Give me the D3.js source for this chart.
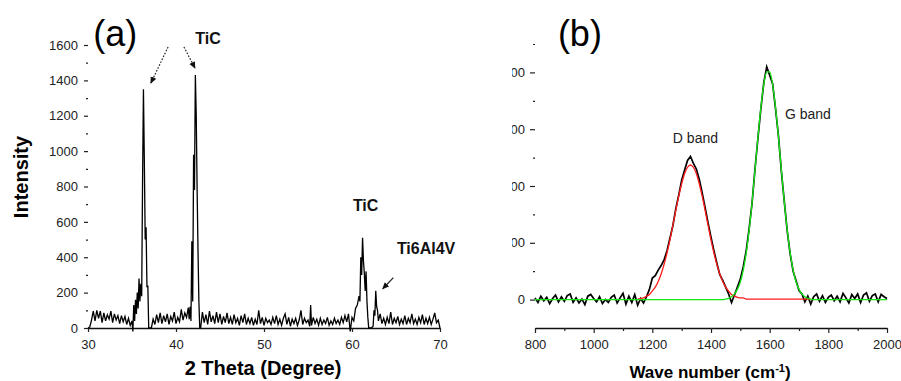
<!DOCTYPE html>
<html>
<head>
<meta charset="utf-8">
<script src="https://cdn.jsdelivr.net/npm/d3@7"></script>
<style>
  body { margin: 0; background: #fff; }
  svg { display: block; font-family: "Liberation Sans", Arial, sans-serif; }
</style>
</head>
<body>
<div id="chart"></div>
<script>
// ---- (a) XRD pattern: [2 theta, intensity]
const xrdPattern = [
  [30.0, 0], [30.2, 5], [30.4, 45], [30.6, 95], [30.8, 40], [31.0, 100], [31.2, 55], [31.4, 95], [31.6, 30], [31.8, 85],
  [32.0, 40], [32.2, 75], [32.4, 50], [32.6, 95], [32.8, 30], [33.0, 80], [33.2, 45], [33.4, 70], [33.6, 25], [33.8, 70],
  [34.0, 35], [34.2, 65], [34.4, 20], [34.6, 55], [34.8, 15], [35.0, 40], [35.1, -20], [35.2, 130], [35.3, 40], [35.4, 160],
  [35.5, 80], [35.6, 200], [35.7, 110], [35.8, 280], [35.9, 150], [36.0, 250], [36.1, 180], [36.2, 820], [36.3, 1350], [36.4, 950],
  [36.5, 500], [36.6, 570], [36.7, 230], [36.8, 240], [36.9, 0], [37.0, 0], [37.2, 0], [37.4, 50], [37.6, 20], [37.8, 75],
  [38.0, 30], [38.2, 85], [38.4, 25], [38.6, 70], [38.8, 35], [39.0, 80], [39.2, 20], [39.4, 65], [39.6, 40], [39.8, 90],
  [40.0, 25], [40.2, 60], [40.4, 35], [40.6, 105], [40.8, 45], [41.0, 85], [41.2, 60], [41.4, 115], [41.5, 50], [41.6, 120],
  [41.7, 40], [41.8, 490], [41.9, 150], [42.0, 980], [42.1, 780], [42.2, 1430], [42.3, 1200], [42.4, 780], [42.5, 440], [42.6, 150],
  [42.7, 0], [42.8, 0], [43.0, 90], [43.2, 30], [43.4, 75], [43.6, 20], [43.8, 95], [44.0, 35], [44.2, 70], [44.4, 25],
  [44.6, 90], [44.8, 30], [45.0, 80], [45.2, 20], [45.4, 65], [45.6, 30], [45.8, 85], [46.0, 25], [46.2, 60], [46.4, 20],
  [46.6, 75], [46.8, 30], [47.0, 55], [47.2, 15], [47.4, 70], [47.6, 30], [47.8, 80], [48.0, 20], [48.2, 55], [48.4, 25],
  [48.6, 60], [48.8, 15], [49.0, 50], [49.2, 20], [49.4, 100], [49.6, 25], [49.8, 60], [50.0, 15], [50.2, 55], [50.4, 30],
  [50.6, 45], [50.8, 20], [51.0, 60], [51.2, 25], [51.4, 70], [51.6, 20], [51.8, 50], [52.0, 15], [52.2, 55], [52.4, 80],
  [52.6, 20], [52.8, 60], [53.0, 10], [53.2, 50], [53.4, 25], [53.6, 55], [53.8, 15], [54.0, 45], [54.2, 100], [54.4, 20],
  [54.6, 55], [54.8, 30], [55.0, 45], [55.2, 10], [55.3, 130], [55.4, 15], [55.6, 60], [55.8, 25], [56.0, 50], [56.2, 15],
  [56.4, 55], [56.6, 20], [56.8, 45], [57.0, 25], [57.2, 60], [57.4, 15], [57.6, 40], [57.8, 20], [58.0, 55], [58.2, 25],
  [58.4, 45], [58.6, 20], [58.8, 60], [59.0, 30], [59.2, 70], [59.4, 35], [59.6, 80], [59.8, -20], [60.0, 60], [60.2, 40],
  [60.4, 110], [60.6, 130], [60.8, 180], [60.9, 150], [61.0, 400], [61.1, 300], [61.2, 510], [61.3, 380], [61.4, 310], [61.5, 210],
  [61.6, 320], [61.7, 150], [61.8, 60], [61.9, 0], [62.0, 0], [62.2, 0], [62.4, 10], [62.5, 100], [62.6, 70], [62.7, 210],
  [62.8, 120], [62.9, 100], [63.0, 40], [63.2, 80], [63.4, 25], [63.6, 55], [63.8, 20], [64.0, 60], [64.2, 25], [64.4, 90],
  [64.6, 20], [64.8, 55], [65.0, 30], [65.2, 65], [65.4, 20], [65.6, 50], [65.8, 25], [66.0, 70], [66.2, 20], [66.4, 55],
  [66.6, 30], [66.8, 80], [67.0, 25], [67.2, 50], [67.4, 20], [67.6, 60], [67.8, 30], [68.0, 75], [68.2, 20], [68.4, 55],
  [68.6, 25], [68.8, 60], [69.0, 20], [69.2, 50], [69.4, 85], [69.6, 30], [69.8, 45], [70.0, 0]
];
const xrdTicksX = [30, 40, 50, 60, 70];
const xrdTicksY = [0, 200, 400, 600, 800, 1000, 1200, 1400, 1600];
const xrdMinorY = [100, 300, 500, 700, 900, 1100, 1300, 1500];

// ---- (b) Raman spectrum, sampled every 10 cm-1 from 800 to 2000
const ramanWave = d3.range(800, 2001, 10);
const ramanCounts = [
  30, -50, 60, -20, 40, -70, 20, 80, -40, 50,
  -30, 70, 100, -50, 30, -60, 10, -90, 60, 90,
  20, -40, 50, -70, 0, -50, 40, 80, -60, 30,
  110, -80, 60, -50, 90, -100, 20, -60, 50, 180,
  380, 420, 520, 600, 700, 860, 1080, 1300, 1600, 1840,
  2100, 2280, 2450, 2520, 2400, 2300, 2120, 1880, 1620, 1350,
  1100, 860, 640, 440, 340, 220, 100, -50, 80, 220,
  360, 580, 860, 1250, 1700, 2300, 2840, 3360, 3820, 4100,
  3950, 3800, 3360, 2880, 2250, 1720, 1200, 800, 500, 330,
  160, 100, -40, 60, -80, 50, 100, -30, 70, -50,
  40, 80, -20, 60, -40, 110, 30, -60, 90, 20,
  100, -50, 80, 120, -30, 70, 100, -40, 90, 50,
  20
];
// fitted bands: [wave number, counts]
const dBandFit = [
  [1150, 10], [1160, 20], [1170, 30], [1180, 60], [1190, 90], [1200, 150], [1210, 220], [1220, 320], [1230, 450], [1240, 620],
  [1250, 820], [1260, 1050], [1270, 1310], [1280, 1570], [1290, 1820], [1300, 2040], [1310, 2220], [1320, 2330], [1330, 2370], [1340, 2330],
  [1350, 2220], [1360, 2040], [1370, 1820], [1380, 1570], [1390, 1310], [1400, 1050], [1410, 820], [1420, 620], [1430, 450], [1440, 320],
  [1450, 220], [1460, 150], [1470, 90], [1480, 60], [1490, 40], [1500, 30], [1510, 30], [1520, 10], [1740, 10]
];
const gBandFit = [
  [800, 0], [1440, 0], [1450, 10], [1460, 20], [1470, 50], [1480, 100], [1490, 180], [1500, 310], [1510, 520], [1520, 820],
  [1530, 1220], [1540, 1710], [1550, 2280], [1560, 2860], [1570, 3380], [1580, 3790], [1590, 4010], [1600, 4010], [1610, 3790], [1620, 3380],
  [1630, 2860], [1640, 2280], [1650, 1710], [1660, 1220], [1670, 820], [1680, 520], [1690, 310], [1700, 180], [1710, 100], [1720, 50],
  [1730, 20], [1740, 10], [1750, 0], [2000, 0]
];
const ramanTicksX = [800, 1000, 1200, 1400, 1600, 1800, 2000];
const ramanMinorX = [900, 1100, 1300, 1500, 1700, 1900];
const ramanTicksY = [0, 1000, 2000, 3000, 4000];
const ramanMinorY = [500, 1500, 2500, 3500, 4500];

const width = 901;
const height = 381;
const fmt = d3.format('d');

const svg = d3.select('#chart').append('svg')
  .attr('width', width)
  .attr('height', height)
  .attr('viewBox', `0 0 ${width} ${height}`);

svg.append('rect').attr('width', width).attr('height', height).attr('fill', '#fff');

const defs = svg.append('defs');
defs.append('marker')
  .attr('id', 'head')
  .attr('viewBox', '0 0 8 8')
  .attr('refX', 7).attr('refY', 4)
  .attr('markerWidth', 7).attr('markerHeight', 7)
  .attr('markerUnits', 'userSpaceOnUse')
  .attr('orient', 'auto')
  .append('path').attr('d', 'M0,0.5 L8,4 L0,7.5 z').attr('fill', '#111');
// panel (b) is cropped on its left side in the source figure
defs.append('clipPath').attr('id', 'cutB')
  .append('rect').attr('x', 512).attr('y', 0).attr('width', 400).attr('height', height);

function styleAxis(g) {
  g.selectAll('.domain').attr('stroke', '#111').attr('stroke-width', 1.3);
  g.selectAll('.tick line').attr('stroke', '#222').attr('stroke-width', 1.2);
  g.selectAll('.tick text').attr('fill', '#222').style('font-size', '13px')
    .style('font-family', '"Liberation Sans", Arial, sans-serif');
}

// ================= (a) =================
const xA = d3.scaleLinear().domain([30, 70]).range([88, 440]);
const yA = d3.scaleLinear().domain([0, 1600]).range([328, 45]);

svg.append('g').attr('transform', 'translate(0,328)')
  .call(d3.axisBottom(xA).tickValues(xrdTicksX).tickFormat(fmt).tickSizeInner(4).tickSizeOuter(0).tickPadding(8))
  .call(styleAxis);

svg.append('g').attr('transform', 'translate(88,0)')
  .call(d3.axisLeft(yA).tickValues(xrdTicksY).tickFormat(fmt).tickSize(4).tickPadding(6))
  .call(g => g.select('.domain').remove())
  .call(styleAxis);

svg.append('g').attr('transform', 'translate(88,0)')
  .call(d3.axisLeft(yA).tickValues(xrdMinorY).tickSize(2).tickFormat(''))
  .call(g => g.select('.domain').remove())
  .call(styleAxis);

svg.append('path')
  .datum(xrdPattern)
  .attr('fill', 'none')
  .attr('stroke', '#000')
  .attr('stroke-width', 1.3)
  .attr('d', d3.line().x(d => xA(d[0])).y(d => yA(d[1])));

const xrdNotes = [
  { text: 'TiC', x: 42.2, y: 1605 },
  { text: 'TiC', x: 60.1, y: 661 },
  { text: 'Ti6Al4V', x: 65.1, y: 418 }
];
svg.selectAll('.xrd-note')
  .data(xrdNotes)
  .enter().append('text')
  .attr('class', 'xrd-note')
  .attr('x', d => xA(d.x))
  .attr('y', d => yA(d.y))
  .attr('font-size', 16)
  .attr('font-weight', 'bold')
  .attr('fill', '#111')
  .text(d => d.text);

const xrdArrows = [
  { x1: 39.1, y1: 1589, x2: 37.15, y2: 1385, dash: '1.6,1.6' },
  { x1: 40.9, y1: 1589, x2: 42.15, y2: 1470, dash: '1.6,1.6' },
  { x1: 64.7, y1: 285, x2: 63.5, y2: 222, dash: null }
];
svg.selectAll('.xrd-arrow')
  .data(xrdArrows)
  .enter().append('line')
  .attr('class', 'xrd-arrow')
  .attr('x1', d => xA(d.x1)).attr('y1', d => yA(d.y1))
  .attr('x2', d => xA(d.x2)).attr('y2', d => yA(d.y2))
  .attr('stroke', '#222')
  .attr('stroke-width', 1.2)
  .attr('stroke-dasharray', d => d.dash)
  .attr('marker-end', 'url(#head)');

svg.append('text')
  .attr('x', xA(33.1)).attr('y', yA(1594))
  .attr('text-anchor', 'middle')
  .attr('font-size', 36)
  .attr('fill', '#000')
  .text('(a)');

svg.append('text')
  .attr('x', 263).attr('y', 375)
  .attr('text-anchor', 'middle')
  .attr('font-size', 20).attr('font-weight', 'bold')
  .text('2 Theta (Degree)');

svg.append('text')
  .attr('transform', 'translate(28,177) rotate(-90)')
  .attr('text-anchor', 'middle')
  .attr('font-size', 20).attr('font-weight', 'bold')
  .text('Intensity');

// ================= (b) =================
const xB = d3.scaleLinear().domain([800, 2000]).range([535, 887]);
const yB = d3.scaleLinear().domain([-500, 4500]).range([328, 44]);

svg.append('g').attr('transform', 'translate(0,328)')
  .call(d3.axisBottom(xB).tickValues(ramanTicksX).tickFormat(fmt).tickSizeInner(5).tickSizeOuter(0).tickPadding(7))
  .call(styleAxis);

svg.append('g').attr('transform', 'translate(0,328)')
  .call(d3.axisBottom(xB).tickValues(ramanMinorX).tickSize(3).tickFormat(''))
  .call(g => g.select('.domain').remove())
  .call(styleAxis);

svg.append('g')
  .attr('clip-path', 'url(#cutB)')
  .append('g').attr('transform', 'translate(535,0)')
  .call(d3.axisLeft(yB).tickValues(ramanTicksY).tickFormat(fmt).tickSize(5).tickPadding(5))
  .call(g => g.select('.domain').remove())
  .call(styleAxis);

svg.append('g').attr('transform', 'translate(535,0)')
  .call(d3.axisLeft(yB).tickValues(ramanMinorY).tickSize(2).tickFormat(''))
  .call(g => g.select('.domain').remove())
  .call(styleAxis);

const ramanLine = d3.line().x(d => xB(d[0])).y(d => yB(d[1]));
const fitLine = d3.line().x(d => xB(d[0])).y(d => yB(d[1])).curve(d3.curveMonotoneX);

svg.append('path')
  .datum(ramanWave.map((w, i) => [w, ramanCounts[i]]).filter(d => d[1] !== undefined))
  .attr('fill', 'none')
  .attr('stroke', '#000')
  .attr('stroke-width', 1.7)
  .attr('d', ramanLine);

svg.append('path')
  .datum(dBandFit)
  .attr('fill', 'none')
  .attr('stroke', '#ff1a1a')
  .attr('stroke-width', 1.3)
  .attr('d', fitLine);

svg.append('path')
  .datum(gBandFit)
  .attr('fill', 'none')
  .attr('stroke', '#14e614')
  .attr('stroke-width', 1.3)
  .attr('d', fitLine);

const ramanNotes = [
  { text: 'D band', x: 1270, y: 2757 },
  { text: 'G band', x: 1652, y: 3180 }
];
svg.selectAll('.raman-note')
  .data(ramanNotes)
  .enter().append('text')
  .attr('class', 'raman-note')
  .attr('x', d => xB(d.x))
  .attr('y', d => yB(d.y))
  .attr('font-size', 14)
  .attr('fill', '#222')
  .text(d => d.text);

svg.append('text')
  .attr('x', xB(953)).attr('y', yB(4465))
  .attr('text-anchor', 'middle')
  .attr('font-size', 36)
  .attr('fill', '#000')
  .text('(b)');

const xTitleB = svg.append('text')
  .attr('x', 710).attr('y', 378)
  .attr('text-anchor', 'middle')
  .attr('font-size', 17).attr('font-weight', 'bold');
xTitleB.append('tspan').text('Wave number (cm');
xTitleB.append('tspan').attr('font-size', 11).attr('dy', -6).text('-1');
xTitleB.append('tspan').attr('dy', 6).text(')');
</script>
</body>
</html>
